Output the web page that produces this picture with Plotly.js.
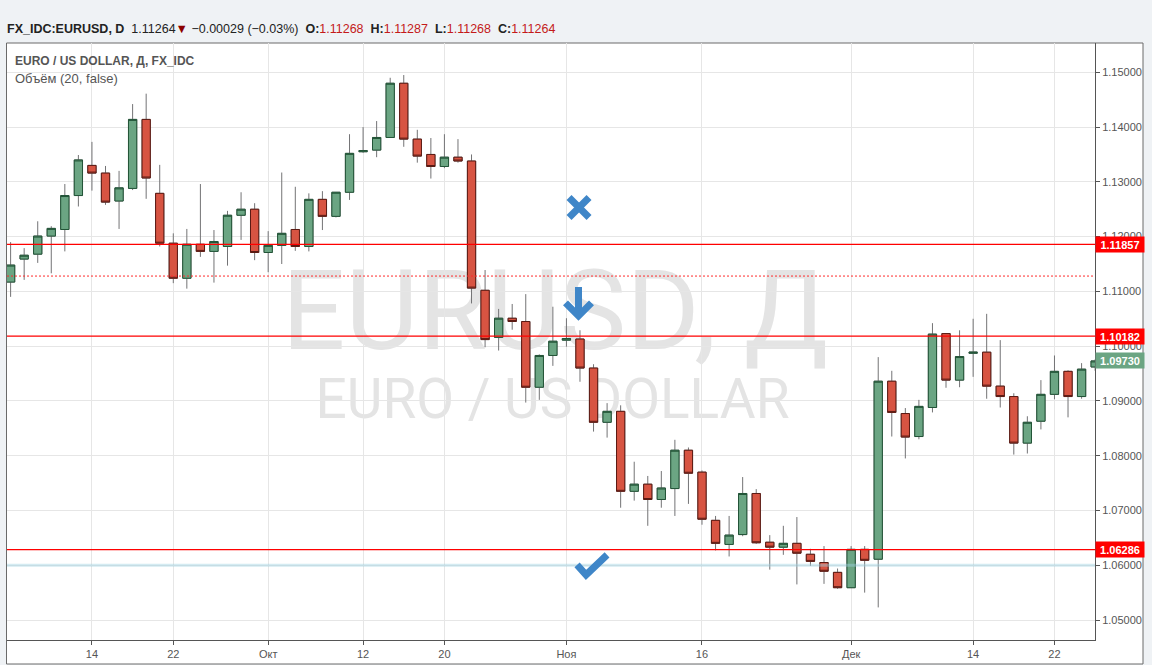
<!DOCTYPE html>
<html>
<head>
<meta charset="utf-8">
<script src="https://cdn.plot.ly/plotly-3.0.1.min.js"></script>
<style>
  html, body { margin: 0; padding: 0; background: #eff2f5; }
  #chart { width: 1152px; height: 665px; }
</style>
</head>
<body>
<div id="chart"></div>
<script>
// ---- DATA (EUR/USD daily, FX_IDC) ----
const dates = [
  '2015-09-04','2015-09-07','2015-09-08','2015-09-09','2015-09-10','2015-09-11','2015-09-14','2015-09-15','2015-09-16','2015-09-17',
  '2015-09-18','2015-09-21','2015-09-22','2015-09-23','2015-09-24','2015-09-25','2015-09-28','2015-09-29','2015-09-30','2015-10-01',
  '2015-10-02','2015-10-05','2015-10-06','2015-10-07','2015-10-08','2015-10-09','2015-10-12','2015-10-13','2015-10-14','2015-10-15',
  '2015-10-16','2015-10-19','2015-10-20','2015-10-21','2015-10-22','2015-10-23','2015-10-26','2015-10-27','2015-10-28','2015-10-29',
  '2015-10-30','2015-11-02','2015-11-03','2015-11-04','2015-11-05','2015-11-06','2015-11-09','2015-11-10','2015-11-11','2015-11-12',
  '2015-11-13','2015-11-16','2015-11-17','2015-11-18','2015-11-19','2015-11-20','2015-11-23','2015-11-24','2015-11-25','2015-11-26',
  '2015-11-27','2015-11-30','2015-12-01','2015-12-02','2015-12-03','2015-12-04','2015-12-07','2015-12-08','2015-12-09','2015-12-10',
  '2015-12-11','2015-12-14','2015-12-15','2015-12-16','2015-12-17','2015-12-18','2015-12-21','2015-12-22','2015-12-23','2015-12-24',
  '2015-12-25'
];
const open = [
  1.1117,1.1159,1.1168,1.1201,1.1213,1.1275,1.1330,1.1316,1.1265,1.1288,
  1.1414,1.1279,1.1188,1.1124,1.1186,1.1173,1.1182,1.1239,1.1250,1.1171,
  1.1184,1.1213,1.1182,1.1268,1.1237,1.1281,1.1355,1.1358,1.1381,1.1480,
  1.1378,1.1350,1.1328,1.1345,1.1338,1.1102,1.1016,1.1051,1.1045,1.0925,
  1.0983,1.1011,1.1013,1.0960,1.0861,1.0881,1.0735,1.0748,1.0720,1.0740,
  1.0810,1.0770,1.0682,1.0638,1.0656,1.0731,1.0642,1.0633,1.0640,1.0620,
  1.0605,1.0587,1.0559,1.0629,1.0611,1.0936,1.0877,1.0835,1.0888,1.1023,
  1.0938,1.0987,1.0989,1.0927,1.0908,1.0823,1.0863,1.0912,1.0954,1.0908,
  1.0962
];
const high = [
  1.1190,1.1179,1.1228,1.1219,1.1296,1.1349,1.1373,1.1329,1.1320,1.1442,
  1.1461,1.1331,1.1206,1.1214,1.1296,1.1212,1.1247,1.1281,1.1261,1.1210,
  1.1317,1.1291,1.1279,1.1283,1.1281,1.1387,1.1400,1.1411,1.1490,1.1495,
  1.1395,1.1380,1.1387,1.1378,1.1350,1.1139,1.1068,1.1077,1.1095,1.0985,
  1.1072,1.1051,1.1029,1.0967,1.0896,1.0892,1.0789,1.0763,1.0772,1.0829,
  1.0815,1.0773,1.0690,1.0690,1.0761,1.0739,1.0655,1.0672,1.0688,1.0630,
  1.0635,1.0594,1.0635,1.0635,1.0980,1.0955,1.0887,1.0902,1.1042,1.1024,
  1.1029,1.1050,1.1059,1.1011,1.0914,1.0872,1.0938,1.0983,1.0956,1.0969,
  1.0976
];
const low = [
  1.1090,1.1121,1.1152,1.1133,1.1173,1.1255,1.1284,1.1258,1.1214,1.1285,
  1.1269,1.1182,1.1115,1.1105,1.1163,1.1116,1.1147,1.1194,1.1157,1.1135,
  1.1150,1.1174,1.1173,1.1212,1.1235,1.1267,1.1353,1.1345,1.1381,1.1364,
  1.1335,1.1306,1.1325,1.1335,1.1078,1.0998,1.0992,1.1030,1.0897,1.0902,
  1.0964,1.0999,1.0935,1.0844,1.0833,1.0705,1.0718,1.0672,1.0705,1.0690,
  1.0712,1.0674,1.0627,1.0616,1.0653,1.0639,1.0592,1.0619,1.0565,1.0599,
  1.0566,1.0557,1.0559,1.0550,1.0523,1.0835,1.0795,1.0830,1.0879,1.0924,
  1.0925,1.0944,1.0904,1.0888,1.0802,1.0804,1.0848,1.0903,1.0870,1.0904,
  1.0955
];
const close = [
  1.1148,1.1166,1.1201,1.1215,1.1275,1.1340,1.1316,1.1263,1.1289,1.1414,
  1.1307,1.1188,1.1124,1.1186,1.1173,1.1191,1.1239,1.1250,1.1171,1.1184,
  1.1206,1.1182,1.1268,1.1237,1.1281,1.1352,1.1357,1.1381,1.1480,1.1378,
  1.1347,1.1328,1.1345,1.1338,1.1106,1.1012,1.1051,1.1045,1.0925,1.0983,
  1.1009,1.1014,1.0960,1.0861,1.0881,1.0735,1.0748,1.0720,1.0741,1.0810,
  1.0768,1.0684,1.0640,1.0655,1.0731,1.0641,1.0633,1.0640,1.0622,1.0607,
  1.0589,1.0559,1.0629,1.0609,1.0936,1.0879,1.0834,1.0890,1.1022,1.0938,
  1.0981,1.0989,1.0927,1.0908,1.0823,1.0861,1.0912,1.0954,1.0908,1.0958,
  1.0973
];
const tickDates  = ['2015-09-14','2015-09-22','2015-10-01','2015-10-12','2015-10-20','2015-11-02','2015-11-16','2015-12-01','2015-12-14','2015-12-22'];
const tickLabels = ['14','22','Окт','12','20','Ноя','16','Дек','14','22'];
const levelLines = [1.11857, 1.10182, 1.06286];
const dashedLevel = 1.1128;
const supportLevel = 1.0600;
const lastPrice = 1.0973;
// drawing markers: [category index, price]
const crossMark = [41.93, 1.1253];
const arrowMark = [41.89, 1.1079];
const checkMark = [42.89, 1.0597];

// ---- STYLE ----
const FONT = 'Liberation Sans, Arial, sans-serif';
const WM_FONT = 'Roboto, Liberation Sans, Arial, sans-serif';
const GREEN = '#6ba583', GREEN_LINE = '#225437';
const RED = '#d75442', RED_LINE = '#5b1a13';
const WICK = '#737375';
const BLUE = '#3f86c8';

const bodyHigh = open.map((o, i) => Math.max(o, close[i]));
const bodyLow  = open.map((o, i) => Math.min(o, close[i]));

const traces = [
  { type: 'candlestick', x: dates, open: open, high: high, low: low, close: close,
    increasing: { line: { color: WICK, width: 1 }, fillcolor: GREEN },
    decreasing: { line: { color: WICK, width: 1 }, fillcolor: RED },
    whiskerwidth: 0, hoverinfo: 'none', showlegend: false },
  { type: 'candlestick', x: dates, open: open, high: bodyHigh, low: bodyLow, close: close,
    increasing: { line: { color: GREEN_LINE, width: 1 }, fillcolor: GREEN },
    decreasing: { line: { color: RED_LINE, width: 1 }, fillcolor: RED },
    whiskerwidth: 0, hoverinfo: 'none', showlegend: false }
];

// pixel helpers for paper coordinates (plot area: x 7..1095, y 43..640)
const L = 7, R = 57, T = 43, B = 25, W = 1152, H = 665;
const PW = W - L - R, PH = H - T - B;
const px = x => (x - L) / PW;
const py = y => (H - B - y) / PH;

const shapes = [];
// white chart panel
shapes.push({ type: 'rect', xref: 'paper', yref: 'paper', x0: px(6.5), x1: px(1143), y0: py(664), y1: py(43),
  fillcolor: '#ffffff', line: { color: '#6a6a6a', width: 1 }, layer: 'below' });
// watermark
shapes.push({ type: 'rect', xref: 'paper', yref: 'paper', x0: px(255), x1: px(855), y0: py(358), y1: py(246),
  line: { width: 0 }, fillcolor: 'rgba(0,0,0,0)', layer: 'below',
  label: { text: 'EURUSD, Д', textposition: 'middle center', font: { family: WM_FONT, size: 112, color: '#e4e4e4' } } });
shapes.push({ type: 'rect', xref: 'paper', yref: 'paper', x0: px(300), x1: px(805), y0: py(418), y1: py(372),
  line: { width: 0 }, fillcolor: 'rgba(0,0,0,0)', layer: 'below',
  label: { text: 'EURO / US DOLLAR', textposition: 'middle center', font: { family: WM_FONT, size: 55, color: '#e4e4e4' } } });
// level lines
levelLines.forEach(v => shapes.push({ type: 'line', xref: 'paper', yref: 'y', x0: 0, x1: 1, y0: v, y1: v,
  line: { color: '#ff0000', width: 1.2 }, layer: 'above' }));
shapes.push({ type: 'line', xref: 'paper', yref: 'y', x0: 0, x1: 1, y0: dashedLevel, y1: dashedLevel,
  line: { color: '#ff2a2a', width: 1, dash: '2px,2px' }, layer: 'above' });
shapes.push({ type: 'line', xref: 'paper', yref: 'y', x0: 0, x1: 1, y0: supportLevel, y1: supportLevel,
  line: { color: 'rgba(160,210,226,0.45)', width: 3 }, layer: 'above' });
// markers
const iconStyle = { xref: 'x', yref: 'y', type: 'path', xsizemode: 'pixel', ysizemode: 'pixel',
  line: { color: BLUE, width: 7 }, fillcolor: 'rgba(0,0,0,0)', layer: 'above' };
shapes.push(Object.assign({}, iconStyle, { xanchor: crossMark[0], yanchor: crossMark[1],
  path: 'M -10 10 L 10 -10 M -10 -10 L 10 10' }));
shapes.push(Object.assign({}, iconStyle, { xanchor: arrowMark[0], yanchor: arrowMark[1],
  path: 'M 0 16 L 0 -12 M -13 0 L 0 -13 L 13 0' }));
shapes.push(Object.assign({}, iconStyle, { xanchor: checkMark[0], yanchor: checkMark[1],
  path: 'M -15 2 L -6 -8 L 15 12' }));

const nb = '\u00a0';
const dr = s => '<span style="color:#c41a1a">' + s + '</span>';
const header = '<b>FX_IDC:EURUSD, D</b>' + nb + nb + '1.11264' + '<span style="color:#8b0000">▼</span>' + nb +
  '−0.00029 (−0.03%)' + nb + nb + '<b>O:</b>' + dr('1.11268') + nb + nb + '<b>H:</b>' + dr('1.11287') + nb + nb +
  '<b>L:</b>' + dr('1.11268') + nb + nb + '<b>C:</b>' + dr('1.11264');

const annotations = [
  { xref: 'paper', yref: 'paper', x: px(5), y: py(29), xanchor: 'left', yanchor: 'middle', showarrow: false,
    text: header, font: { family: FONT, size: 12.5, color: '#222' } },
  { xref: 'paper', yref: 'paper', x: px(13), y: py(61), xanchor: 'left', yanchor: 'middle', showarrow: false,
    text: '<b>EURO / US DOLLAR, Д, FX_IDC</b>', font: { family: FONT, size: 12, color: '#555' } },
  { xref: 'paper', yref: 'paper', x: px(13), y: py(78), xanchor: 'left', yanchor: 'middle', showarrow: false,
    text: 'Объём (20, false)', font: { family: FONT, size: 13, color: '#555' } }
];
levelLines.forEach(v => annotations.push({ xref: 'paper', yref: 'y', x: 1, y: v, xanchor: 'left', yanchor: 'middle',
  showarrow: false, text: '<b>' + v.toFixed(5) + '</b>', bgcolor: '#ff0000', width: 46, height: 13, borderpad: 1,
  font: { family: FONT, size: 11, color: '#ffffff' } }));
annotations.push({ xref: 'paper', yref: 'y', x: 1, y: lastPrice, xanchor: 'left', yanchor: 'middle',
  showarrow: false, text: '<b>' + lastPrice.toFixed(5) + '</b>', bgcolor: GREEN, width: 46, height: 13, borderpad: 1,
  font: { family: FONT, size: 11, color: '#ffffff' } });

const layout = {
  width: W, height: H,
  margin: { l: L, r: R, t: T, b: B, pad: 0 },
  paper_bgcolor: '#eff2f5', plot_bgcolor: 'rgba(0,0,0,0)',
  showlegend: false, dragmode: false, hovermode: false,
  boxgap: 0.39, boxgroupgap: 0,
  xaxis: {
    type: 'category', range: [-0.266, 79.99], autorange: false,
    tickmode: 'array', tickvals: tickDates, ticktext: tickLabels,
    showgrid: true, gridcolor: '#e6e6e6', gridwidth: 1,
    showline: true, linecolor: '#555', linewidth: 1,
    ticks: 'outside', ticklen: 4, tickcolor: '#555',
    tickfont: { family: FONT, size: 11, color: '#555' },
    rangeslider: { visible: false }, fixedrange: true, zeroline: false
  },
  yaxis: {
    side: 'right', range: [1.04635, 1.15535], autorange: false,
    tick0: 1.05, dtick: 0.01, tickformat: '.5f',
    showgrid: true, gridcolor: '#e6e6e6', gridwidth: 1,
    showline: true, linecolor: '#555', linewidth: 1,
    ticks: 'outside', ticklen: 4, tickcolor: '#555',
    tickfont: { family: FONT, size: 11, color: '#555' },
    fixedrange: true, zeroline: false
  },
  shapes: shapes,
  annotations: annotations
};

Plotly.newPlot('chart', traces, layout, { displayModeBar: false, staticPlot: true });
</script>
</body>
</html>
